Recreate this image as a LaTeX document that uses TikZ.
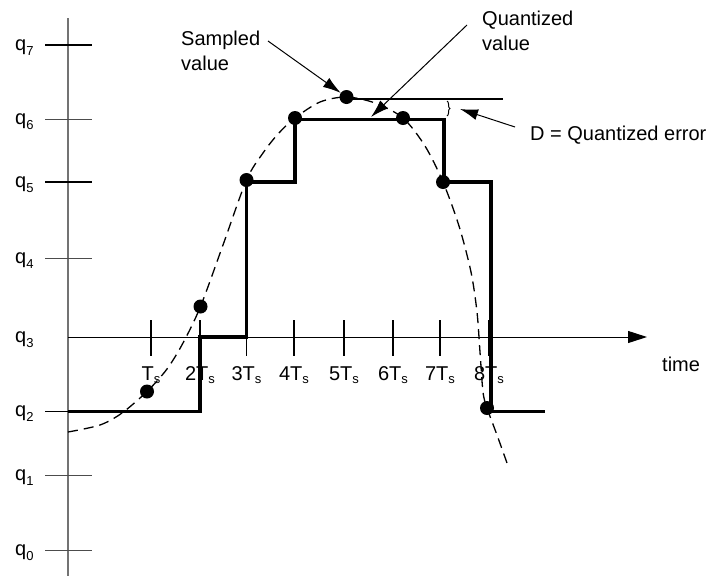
\documentclass[tikz,border=0pt]{standalone}
\usepackage{fontspec}
\setmainfont{Liberation Sans}
\usetikzlibrary{arrows.meta,decorations.pathreplacing}
\newcommand\lowsub[2][4pt]{\raisebox{-#1}{\fontsize{13}{13}\selectfont #2}}
\begin{document}
\begin{tikzpicture}[x=1pt,y=-1pt,
  every node/.style={font=\fontsize{20}{25}\selectfont},
  lbl/.style={inner sep=0pt},
  dot/.style={circle,fill=black,inner sep=0pt,minimum size=14pt,outer sep=0pt},
  qtick/.style={line width=1pt,black!70},
  qtickb/.style={line width=1.8pt,black},
  ttick/.style={line width=1.3pt},
  stair/.style={line width=3.4pt,line join=miter},
  sig/.style={line width=1.3pt,dash pattern=on 10pt off 6pt},
  arr/.style={line width=1pt,-{Latex[length=18pt,width=11pt]}}
]
\useasboundingbox (0,0) rectangle (728,576);

% vertical axis
\coordinate (vtop) at (68,18);
\coordinate (vbot) at (68,576);
\draw[line width=1.3pt,black!55] (vtop) -- (vbot);

% q ticks and labels
\foreach \n/\y/\s in {7/45/qtickb,6/119.5/qtick,5/182/qtickb,4/258/qtick,2/411.5/qtickb,1/475/qtick,0/550/qtick}{
  \coordinate (qa\n) at (45,\y);
  \coordinate (qb\n) at (92,\y);
  \draw[\s] (qa\n) -- (qb\n);
}
\foreach \n/\y in {7/45,6/119.5,5/182,4/258,3/337,2/411.5,1/475,0/550}{
  \node[lbl,anchor=base west] (ql\n) at (15,\y+5) {q\lowsub[5pt]{\n}};
}

% horizontal axis
\coordinate (hstart) at (68,337);
\coordinate (hend) at (647,337);
\draw[line width=1pt,-{Triangle[length=19pt,width=12pt]}] (hstart) -- (hend);
\node[lbl,anchor=base west] (time) at (662,371) {time};

% time ticks and labels
\foreach \i/\x/\t in {1/151/,2/200/2,3/246.5/3,4/294/4,5/344/5,6/393/6,7/440/7,8/489/8}{
  \coordinate (ta\i) at (\x,320);
  \coordinate (tb\i) at (\x,356);
  \draw[ttick] (ta\i) -- (tb\i);
  \node[lbl,anchor=base] (tl\i) at (\x,380) {\t T\lowsub[3pt]{s}};
}

% quantized staircase
\draw[stair] (68,411.5) -- (200,411.5) -- (200,337) -- (246.5,337) -- (246.5,182)
  -- (295,182) -- (295,119.5) -- (444,119.5) -- (444,182) -- (491,182) -- (491,411.5) -- (545,411.5);

% analog signal
\draw[sig] plot[smooth,tension=0.5] coordinates {(68,432) (100,425) (122,413) (147,391.5) (167,369)
  (183,343) (200.5,306.5) (223,245) (246.5,180) (263,153) (278,134) (295,118) (320,102)
  (346.5,97) (375,103) (403,118) (425,146) (443,182) (459,226) (471,272) (477,312)
  (480,352) (483,392) (487,408) (497,435) (507,463)};

% sample dots
\node[dot] (s1) at (147,391.5) {};
\node[dot] (s2) at (200.5,306.5) {};
\node[dot] (s3) at (246.5,180) {};
\node[dot] (s4) at (295,118) {};
\node[dot] (s5) at (346.5,97) {};
\node[dot] (s6) at (403,118) {};
\node[dot] (s7) at (443,182) {};
\node[dot] (s8) at (487,408) {};

% reference line at peak
\coordinate (pk) at (503,99);
\draw[line width=1.2pt] (s5.center) ++(0,2) -- (pk);
\draw[line width=1pt,decorate,decoration={brace,amplitude=3pt}] (447,101) -- (447,116);

% labels and arrows
\node[lbl,anchor=north west,align=left] (samp) at (181,30.5) {Sampled\\value};
\coordinate (sa) at (268,41);
\draw[arr] (sa) -- (s5);

\node[lbl,anchor=north west,align=left] (quant) at (482,10.5) {Quantized\\value};
\coordinate (qva) at (467,25);
\coordinate (qvt) at (371,117);
\draw[arr] (qva) -- (qvt);

\node[lbl,anchor=base west] (derr) at (530,140) {D = Quantized error};
\coordinate (da) at (515,127);
\coordinate (dt) at (460,109);
\draw[arr] (da) -- (dt);
\end{tikzpicture}
\end{document}
